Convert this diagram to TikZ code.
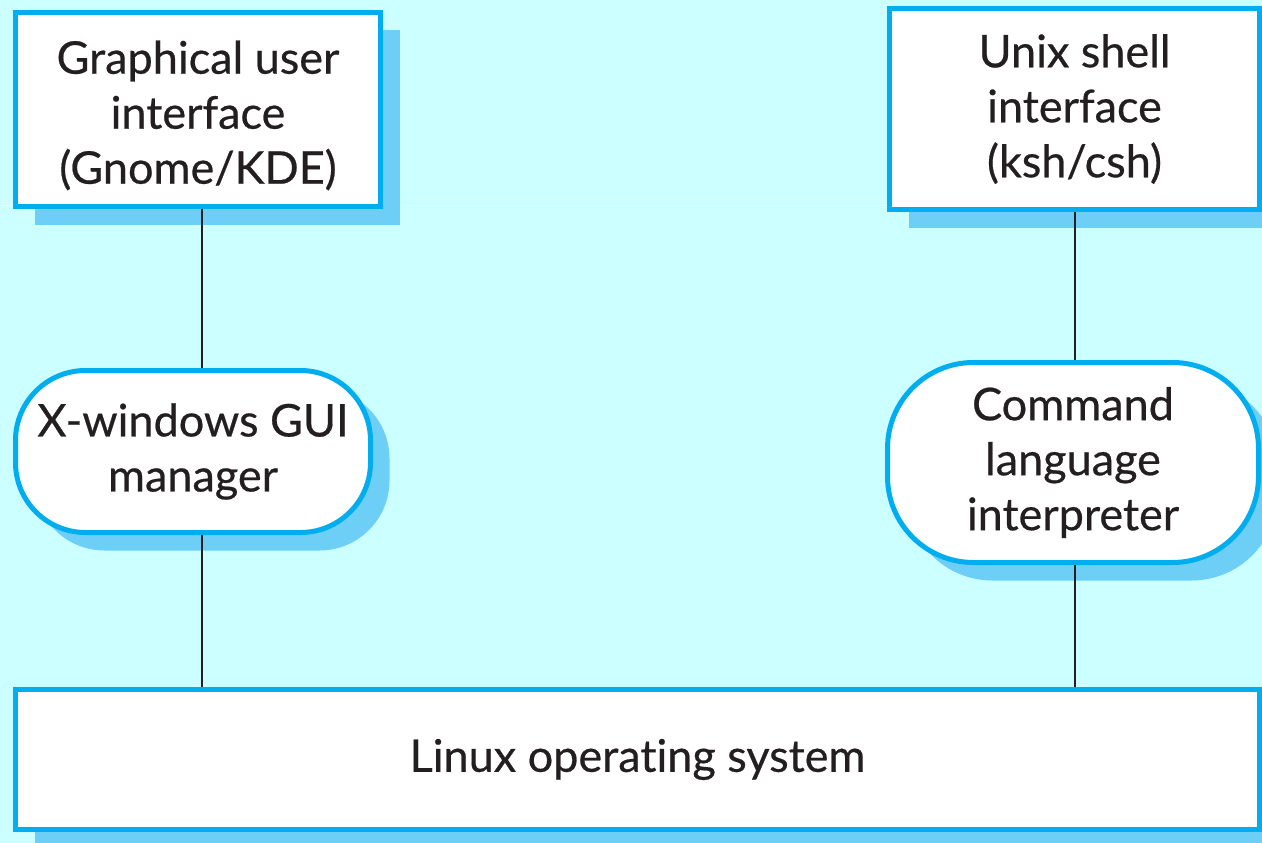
\documentclass[tikz,border=0pt]{standalone}
\usepackage{fontspec}
\setmainfont{Lato}[Ligatures={NoCommon,NoRare,NoDiscretionary,NoContextual}, UprightFeatures={FakeBold=0.5}]
\usetikzlibrary{shadows}
\definecolor{bgc}{RGB}{204,255,255}
\definecolor{edgec}{RGB}{0,174,239}
\definecolor{shadc}{RGB}{109,207,246}
\definecolor{inkc}{RGB}{35,31,32}
\begin{document}
\begin{tikzpicture}[x=1pt,y=-1pt,
  boxstyle/.style={draw=edgec, line width=5pt, fill=white, inner sep=0pt,
    text=inkc, align=center, font=\fontsize{45pt}{55pt}\selectfont,
    general shadow={fill=shadc, shadow xshift=19pt, shadow yshift=-18pt}},
  linkstyle/.style={draw=inkc, line width=2pt}]
\useasboundingbox (0,0) rectangle (1262,843);
\fill[bgc] (0,0) rectangle (1262,843);
\draw[white!70!bgc, line width=1pt] (0,205) -- (887,205);
\node[boxstyle, minimum width=365pt, minimum height=194pt] (gui) at (198,109.5)
  {\rule{0pt}{45pt}Graphical user\\interface\\(Gnome/KDE)};
\node[boxstyle, minimum width=370pt, minimum height=201pt] (ush) at (1074.5,109)
  {Unix shell\\interface\\(ksh/csh)};
\node[boxstyle, rounded corners=70pt, minimum width=355pt, minimum height=162pt] (xw) at (193,451.5)
  {X-windows GUI\\manager};
\node[boxstyle, rounded corners=86pt, minimum width=371pt, minimum height=200pt] (cli) at (1073,462.5)
  {Command\\language\\interpreter};
\node[boxstyle, minimum width=1244pt, minimum height=140pt] (linux) at (637.5,759.5)
  {Linux operating system};
\coordinate (lx) at (202,0);
\coordinate (rx) at (1075,0);
\draw[linkstyle] (gui.south -| lx) -- (xw.north -| lx);
\draw[linkstyle] (xw.south -| lx) -- (linux.north -| lx);
\draw[linkstyle] (ush.south -| rx) -- (cli.north -| rx);
\draw[linkstyle] (cli.south -| rx) -- (linux.north -| rx);
\end{tikzpicture}
\end{document}
